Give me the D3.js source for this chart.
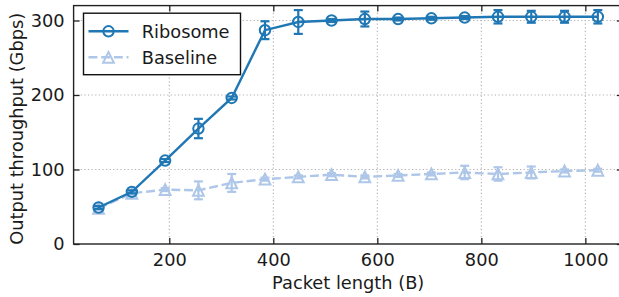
<!DOCTYPE html>
<html><head><meta charset="utf-8">
<script src="https://cdn.jsdelivr.net/npm/d3@7"></script>
<style>
html,body{margin:0;padding:0;background:#fff;}
svg{display:block;font-family:"DejaVu Sans",sans-serif;}
</style></head>
<body><svg id="chart" width="619" height="297"></svg>
<script>
const packetLengths = [64,128,192,256,320,384,448,512,576,640,704,768,832,896,960,1024];
const ribosome    = [49,70,112,155,196,287,298,300,302,302,303,304,305,305,305,305];
const ribosomeErr = [2,2,2,13,2,12,16,2,10,2,2,2,9,8,8,9];
const baseline    = [48,68,73,72,82,87,90,93,90,92,94,96,94,96,98,99];
const baselineErr = [2,2,2,12,12,2,2,2,2,2,2,9,9,8,2,2];
const xTicks = [200,400,600,800,1000];
const yTicks = [0,100,200,300];
const seriesNames = ["Ribosome","Baseline"];

const svg = d3.select("#chart");
const L = 73.6, R = 622.8, T = 5.6, B = 244;
const x = d3.scaleLinear().domain([16,1072]).range([L,R]);
const y = d3.scaleLinear().domain([0,320]).range([B,T]);
const FS = 17.8;
const tickLen = 6;

// grid
const grid = svg.append("g");
grid.selectAll("line.gx").data(xTicks).join("line")
  .attr("x1",d=>x(d)).attr("x2",d=>x(d)).attr("y1",T).attr("y2",B)
  .attr("stroke","#b0b0b0").attr("stroke-width",1.1).attr("stroke-dasharray","1.2,2.4");
grid.selectAll("line.gy").data(yTicks.filter(d=>d>0)).join("line")
  .attr("x1",L).attr("x2",R).attr("y1",d=>y(d)).attr("y2",d=>y(d))
  .attr("stroke","#b0b0b0").attr("stroke-width",1.1).attr("stroke-dasharray","1.2,2.4");

// axes via d3 axis (inward ticks)
const fmt = d3.format("d");
const xAxis = svg.append("g").attr("transform",`translate(0,${B})`)
  .call(d3.axisBottom(x).tickValues(xTicks).tickFormat(fmt).tickSize(-tickLen).tickPadding(tickLen+3).tickSizeOuter(0));
const xTop = svg.append("g").attr("transform",`translate(0,${T})`)
  .call(d3.axisTop(x).tickValues(xTicks).tickSize(-tickLen).tickFormat("").tickSizeOuter(0));
const yAxis = svg.append("g").attr("transform",`translate(${L},0)`)
  .call(d3.axisLeft(y).tickValues(yTicks).tickFormat(fmt).tickSize(-tickLen).tickPadding(tickLen+3).tickSizeOuter(0));
const yRight = svg.append("g").attr("transform",`translate(${R},0)`)
  .call(d3.axisRight(y).tickValues(yTicks).tickSize(-tickLen).tickFormat("").tickSizeOuter(0));
[xAxis,xTop,yAxis,yRight].forEach(g=>{
  g.select(".domain").remove();
  g.selectAll("line").attr("stroke","#222").attr("stroke-width",1.3);
  g.selectAll("text").attr("font-size",FS).attr("fill","#1a1a1a").attr("font-family","DejaVu Sans");
});
// frame
svg.append("rect").attr("x",L).attr("y",T).attr("width",R-L).attr("height",B-T)
  .attr("fill","none").attr("stroke","#222").attr("stroke-width",1.4);

// axis labels
svg.append("text").attr("x",(L+R)/2).attr("y",289).attr("text-anchor","middle")
  .attr("font-size",FS).attr("fill","#1a1a1a").text("Packet length (B)");
svg.append("text").attr("transform",`translate(16,${(T+B)/2+4}) rotate(-90)`)
  .attr("text-anchor","middle").attr("dominant-baseline","central")
  .attr("font-size",FS).attr("fill","#1a1a1a").text("Output throughput (Gbps)");

const cBlue = "#1f77b4", cLight = "#aec7e8";
const capW = 4.5, r = 5.2;
const triPath = (cx,cy,s)=>`M${cx},${cy-s}L${cx+s},${cy+s}L${cx-s},${cy+s}Z`;

function drawSeries(vals, errs, color, dashed, marker){
  const g = svg.append("g");
  const pts = packetLengths.map((p,i)=>({x:p,y:vals[i],e:errs[i]}));
  g.append("path").datum(pts)
    .attr("d", d3.line().x(d=>x(d.x)).y(d=>y(d.y)))
    .attr("fill","none").attr("stroke",color).attr("stroke-width",2.4)
    .attr("stroke-dasharray", dashed ? "8.9,3.8" : null);
  const eb = g.selectAll("g.eb").data(pts).join("g");
  eb.append("line").attr("x1",d=>x(d.x)).attr("x2",d=>x(d.x))
    .attr("y1",d=>y(d.y-d.e)).attr("y2",d=>y(d.y+d.e)).attr("stroke",color).attr("stroke-width",2.2);
  eb.append("line").attr("x1",d=>x(d.x)-capW).attr("x2",d=>x(d.x)+capW)
    .attr("y1",d=>y(d.y-d.e)).attr("y2",d=>y(d.y-d.e)).attr("stroke",color).attr("stroke-width",2.2);
  eb.append("line").attr("x1",d=>x(d.x)-capW).attr("x2",d=>x(d.x)+capW)
    .attr("y1",d=>y(d.y+d.e)).attr("y2",d=>y(d.y+d.e)).attr("stroke",color).attr("stroke-width",2.2);
  if(marker==="circle"){
    g.selectAll("circle.m").data(pts).join("circle")
      .attr("cx",d=>x(d.x)).attr("cy",d=>y(d.y)).attr("r",r)
      .attr("fill","none").attr("stroke",color).attr("stroke-width",2);
  } else {
    g.selectAll("path.m").data(pts).join("path")
      .attr("d",d=>triPath(x(d.x),y(d.y),5.4))
      .attr("fill","none").attr("stroke",color).attr("stroke-width",2).attr("stroke-linejoin","miter");
  }
}
drawSeries(baseline, baselineErr, cLight, true, "tri");
drawSeries(ribosome, ribosomeErr, cBlue, false, "circle");

// legend
const lg = svg.append("g");
lg.append("rect").attr("x",83.5).attr("y",13.2).attr("width",157).attr("height",61.5)
  .attr("fill","#fff").attr("stroke","#111").attr("stroke-width",1.4);
const rows = [
  {name:seriesNames[0], color:cBlue, dashed:false, marker:"circle", cy:31.3},
  {name:seriesNames[1], color:cLight, dashed:true, marker:"tri", cy:57.3}
];
rows.forEach(rw=>{
  lg.append("line").attr("x1",88.5).attr("x2",128.5).attr("y1",rw.cy).attr("y2",rw.cy)
    .attr("stroke",rw.color).attr("stroke-width",2.4).attr("stroke-dasharray",rw.dashed?"8.9,3.8":null);
  if(rw.marker==="circle"){
    lg.append("circle").attr("cx",108.5).attr("cy",rw.cy).attr("r",r).attr("fill","none")
      .attr("stroke",rw.color).attr("stroke-width",2);
  } else {
    lg.append("path").attr("d",triPath(108.5,rw.cy,5.4)).attr("fill","none")
      .attr("stroke",rw.color).attr("stroke-width",2);
  }
  lg.append("text").attr("x",141.7).attr("y",rw.cy).attr("dominant-baseline","central")
    .attr("font-size",FS).attr("fill","#1a1a1a").text(rw.name);
});
</script></body></html>
